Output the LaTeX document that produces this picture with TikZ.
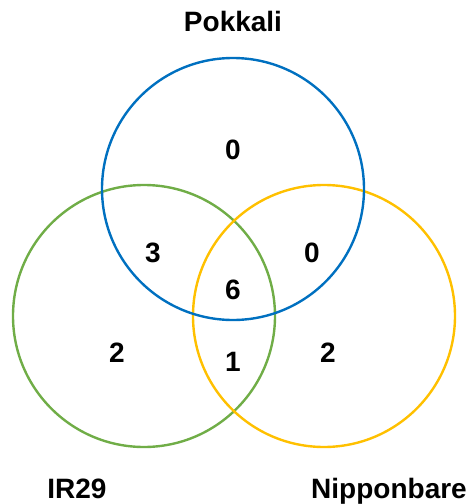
\documentclass[tikz,border=0pt]{standalone}
\usepackage{fontspec}
\setmainfont{Liberation Sans}
\definecolor{vblue}{HTML}{0070C0}
\definecolor{vgreen}{HTML}{70AD47}
\definecolor{vyellow}{HTML}{FFC000}
\begin{document}
\begin{tikzpicture}[x=1pt,y=-1pt,
  ring/.style={line width=2.4pt},
  lab/.style={anchor=base,inner sep=0pt,font=\fontsize{28}{32}\selectfont\bfseries}]
\useasboundingbox (0,0) rectangle (473,504);
\node[ring,draw=vgreen,circle,minimum size=262pt,inner sep=0pt] (ir) at (144,316) {};
\node[ring,draw=vyellow,circle,minimum size=262pt,inner sep=0pt] (nb) at (324,316) {};
\node[ring,draw=vblue,circle,minimum size=262pt,inner sep=0pt] (pk) at (233,189) {};
\node[lab] (tpk) at (233,31) {Pokkali};
\node[lab] (tir) at (77,498) {IR29};
\node[lab] (tnb) at (389,498) {Nipponbare};
\node[lab] (n1) at (233,159) {0};
\node[lab] (n2) at (153,262) {3};
\node[lab] (n3) at (312,262) {0};
\node[lab] (n4) at (233,299) {6};
\node[lab] (n5) at (117,362) {2};
\node[lab] (n6) at (233,371) {1};
\node[lab] (n7) at (328,362) {2};
\end{tikzpicture}
\end{document}
